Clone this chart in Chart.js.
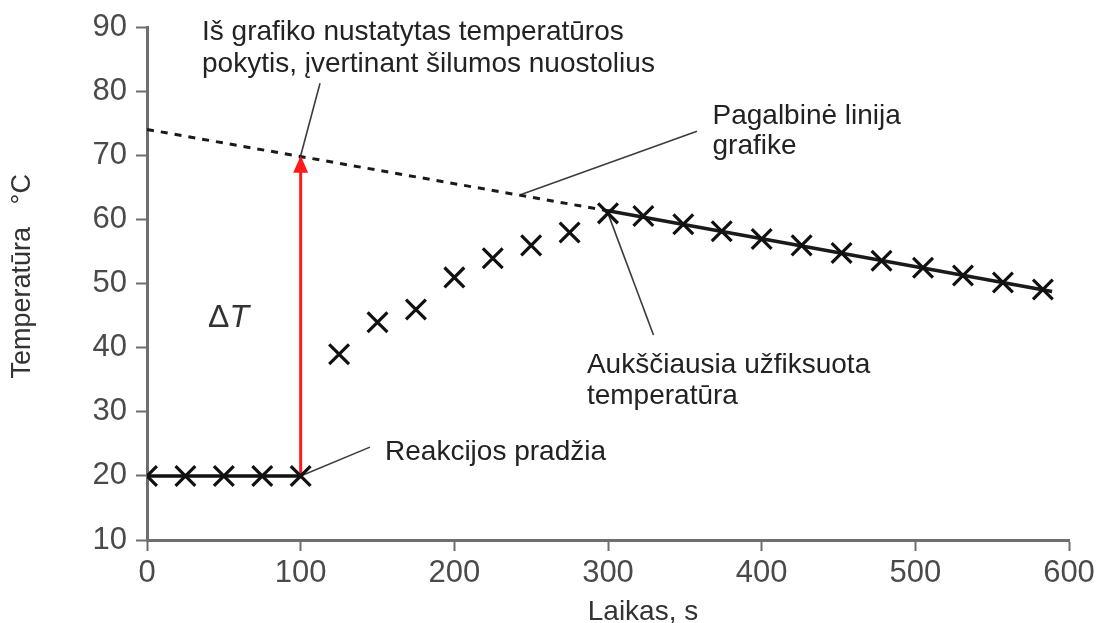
<!DOCTYPE html>
<html>
<head>
<meta charset="utf-8">
<script src="https://cdn.jsdelivr.net/npm/chart.js@4/dist/chart.umd.min.js"></script>
<style>
  html, body { margin: 0; padding: 0; background: #ffffff; }
  #wrap { width: 1100px; height: 623px; position: relative; }
</style>
</head>
<body>
<div id="wrap"><canvas id="c"></canvas></div>
<script>
// ---- data ----
const timeS  = [0, 25, 50, 75, 100, 125, 150, 175, 200, 225, 250, 275, 300, 323, 349, 374, 400, 426, 452, 478, 505, 531, 557, 583];
const tempC  = [20, 20, 20, 20, 20, 39, 44, 46, 51, 54, 56, 58, 61, 60.6, 59.3, 58.2, 57, 56, 54.8, 53.6, 52.5, 51.3, 50.2, 49.1];
const xTicks = [0, 100, 200, 300, 400, 500, 600];
const yTicks = [10, 20, 30, 40, 50, 60, 70, 80, 90];
// baseline before reaction (first five readings)
const baseCount = 5;
// extrapolated cooling line (dashed part then solid part)
const trendX = [0, 300, 589];
const trendY = [74.1, 61.4, 48.8];
// delta T arrow
const arrowX = [100, 100];
const arrowY = [20, 70];
// leader lines of the annotations
const leaderRiseX  = [100, 112.6];  const leaderRiseY  = [70, 81.3];
const leaderHelpX  = [243, 357.9];  const leaderHelpY  = [63.9, 73.8];
const leaderPeakX  = [300, 329.6];  const leaderPeakY  = [61, 42.0];
const leaderStartX = [100, 145.1];  const leaderStartY = [20, 24.5];
// annotation texts (anchored in data units)
const noteTexts = [
  'Iš grafiko nustatytas temperatūros',
  'pokytis, įvertinant šilumos nuostolius',
  'Pagalbinė linija',
  'grafike',
  'Aukščiausia užfiksuota',
  'temperatūra',
  'Reakcijos pradžia'
];
const noteX = [35.8, 35.8, 368, 368, 286.3, 286.3, 154.9];
const noteY = [88.0, 83.0, 75.0, 70.3, 36.1, 31.2, 22.5];
const deltaLabelX = 39.7, deltaLabelY = 43.2;

const pts = (xs, ys) => xs.map((x, i) => ({x: x, y: ys[i]}));

const FONT = "'Liberation Sans', Arial, Helvetica, sans-serif";
const AXIS_COLOR = '#6e6e6e';
const LEADER_COLOR = '#3c3c3c';

const annotationPlugin = {
  id: 'notes',
  afterDatasetsDraw(chart) {
    const ctx = chart.ctx;
    const xs = chart.scales.x, ys = chart.scales.y;
    // arrow head on the delta T line
    const meta = chart.getDatasetMeta(3);
    const tip = meta.data[meta.data.length - 1];
    ctx.save();
    ctx.fillStyle = '#ff1a1a';
    ctx.beginPath();
    ctx.moveTo(tip.x, tip.y);
    ctx.lineTo(tip.x - 7.5, tip.y + 17);
    ctx.lineTo(tip.x + 7.5, tip.y + 17);
    ctx.closePath();
    ctx.fill();
    // texts
    ctx.fillStyle = '#222222';
    ctx.font = '28px ' + FONT;
    ctx.textAlign = 'left';
    ctx.textBaseline = 'alphabetic';
    noteTexts.forEach((t, i) => {
      ctx.fillText(t, xs.getPixelForValue(noteX[i]), ys.getPixelForValue(noteY[i]));
    });
    // Delta T
    const dx = xs.getPixelForValue(deltaLabelX), dy = ys.getPixelForValue(deltaLabelY);
    ctx.fillStyle = '#333333';
    ctx.font = '32px ' + FONT;
    ctx.fillText('\u0394', dx, dy);
    const w = ctx.measureText('\u0394').width;
    ctx.font = 'italic 32px ' + FONT;
    ctx.fillText('T', dx + w, dy);
    ctx.restore();
  }
};

const leader = (xs, ys) => ({
  data: pts(xs, ys), showLine: true, pointRadius: 0, borderColor: LEADER_COLOR,
  borderWidth: 1.6, fill: false
});

new Chart(document.getElementById('c'), {
  type: 'scatter',
  data: {
    datasets: [
      { // measured temperatures
        data: pts(timeS, tempC), showLine: false,
        pointStyle: 'crossRot', pointRadius: 14, pointBorderWidth: 3.2,
        pointBorderColor: '#111111', pointBackgroundColor: '#111111'
      },
      { // baseline
        data: pts(timeS.slice(0, baseCount), tempC.slice(0, baseCount)),
        showLine: true, pointRadius: 0, borderColor: '#111111', borderWidth: 3.5
      },
      { // cooling line, extrapolated back
        data: pts(trendX, trendY), showLine: true, pointRadius: 0,
        borderColor: '#1a1a1a', borderWidth: 3.2,
        segment: { borderDash: c => c.p0DataIndex === 0 ? [7, 7] : undefined,
                   borderWidth: c => c.p0DataIndex === 0 ? 3 : 3.5 }
      },
      { // delta T arrow shaft
        data: pts(arrowX, arrowY), showLine: true, pointRadius: 0,
        borderColor: '#ff1a1a', borderWidth: 3
      },
      leader(leaderRiseX, leaderRiseY),
      leader(leaderHelpX, leaderHelpY),
      leader(leaderPeakX, leaderPeakY),
      leader(leaderStartX, leaderStartY)
    ]
  },
  options: {
    responsive: true,
    maintainAspectRatio: false,
    animation: false,
    layout: { padding: { top: 27, right: 31, left: 0, bottom: 0 } },
    plugins: { legend: { display: false }, tooltip: { enabled: false } },
    scales: {
      x: {
        type: 'linear', min: 0, max: 600,
        afterBuildTicks: s => { s.ticks = xTicks.map(v => ({value: v})); },
        afterFit: s => { s.height = 83; },
        grid: { drawOnChartArea: false, drawTicks: true, tickLength: 11, tickWidth: 2, tickColor: AXIS_COLOR },
        border: { display: true, color: AXIS_COLOR, width: 3 },
        ticks: { color: '#4a4a4a', font: { size: 31, family: FONT }, padding: 4, maxRotation: 0 },
        title: { display: true, text: '         Laikas, s', color: '#333333',
                 font: { size: 28, family: FONT, lineHeight: 0.8 }, padding: { top: 0, bottom: 0 } }
      },
      y: {
        type: 'linear', min: 10, max: 90,
        afterBuildTicks: s => { s.ticks = yTicks.map(v => ({value: v})); },
        afterFit: s => { s.width = 147; },
        grid: { drawOnChartArea: false, drawTicks: true, tickLength: 11, tickWidth: 2, tickColor: AXIS_COLOR },
        border: { display: true, color: AXIS_COLOR, width: 3 },
        ticks: { color: '#4a4a4a', font: { size: 31, family: FONT }, padding: 9 },
        title: { display: true, text: '  Temperatūra   °C', color: '#333333',
                 font: { size: 27, family: FONT }, padding: { top: 6, bottom: 0 } }
      }
    }
  },
  plugins: [annotationPlugin]
});
</script>
</body>
</html>
